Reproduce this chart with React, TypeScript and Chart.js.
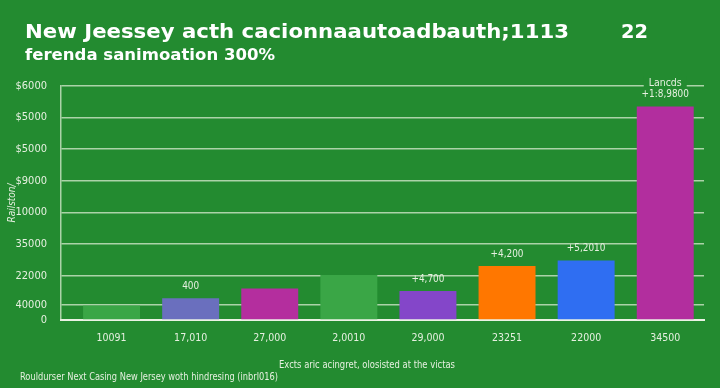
import React, { useEffect, useRef } from "react";
import { Chart, registerables } from "chart.js";

Chart.register(...registerables);

const titleText = "New Jeessey acth cacionnaautoadbauth;1113";
const titleRight = "22";
const subtitleText = "ferenda sanimoation 300%";
const seriesName = "Lancds";
const xAxisTitle = "Excts aric acingret, olosisted at the victas";
const yAxisTitle = "Railston/";
const footerText = "Rouldurser Next Casing New Jersey woth hindresing (inbrl016)";

const categories = ["10091", "17,010", "27,000", "2,0010", "29,000", "23251", "22000", "34500"];
const values = [0.45, 0.69, 1.0, 1.42, 0.92, 1.71, 1.88, 6.75];
const barLabels = ["", "400", "", "", "+4,700", "+4,200", "+5,2010", "+1:8,9800"];
const barColors = ["#3AA646", "#6A6FBE", "#B42E9E", "#3AA646", "#8446C9", "#FF7700", "#2F6EF2", "#B22E9E"];

const yTickValues = [0, 0.47, 1.4, 2.4, 3.4, 4.4, 5.4, 6.4, 7.4];
const yTickLabels = ["0", "40000", "22000", "35000", "10000", "$9000", "$5000", "$5000", "$6000"];

const BG = "#238B30";
const TEXT = "#E6F0E0";
const GRID = "rgba(225,238,215,0.72)";
const NARROW = "'DejaVu Sans Condensed', 'Roboto', sans-serif";
const HEAD = "'DejaVu Sans', Lato, sans-serif";

function drawText(ctx: any, text: string, x: number, y: number, align: string, sx: number) {
  ctx.save();
  ctx.translate(x, y);
  ctx.scale(sx, 1);
  ctx.textAlign = align;
  ctx.fillText(text, 0, 0);
  ctx.restore();
}

function fitText(ctx: any, text: string, x: number, y: number, align: string, width: number) {
  const w = ctx.measureText(text).width;
  drawText(ctx, text, x, y, align, width / w);
}

const textPlugin = {
  id: "textPlugin",
  afterDatasetsDraw(chart: any) {
    const ctx = chart.ctx;
    const area = chart.chartArea;
    ctx.save();
    ctx.fillStyle = "#FFFFFF";
    ctx.textBaseline = "alphabetic";
    ctx.font = `bold 20px ${HEAD}`;
    fitText(ctx, titleText, 25, 37.5, "left", 544);
    fitText(ctx, titleRight, 621, 37.5, "left", 27);
    ctx.font = `bold 15.5px ${HEAD}`;
    fitText(ctx, subtitleText, 25, 60, "left", 250);

    ctx.textBaseline = "middle";
    const meta = chart.getDatasetMeta(0);
    ctx.font = `11px ${NARROW}`;
    ctx.fillStyle = TEXT;
    meta.data.forEach((bar: any, i: number) => {
      const t = barLabels[i];
      if (t) drawText(ctx, t, bar.x, bar.y - 12, "center", 0.9);
    });

    const last = meta.data[meta.data.length - 1];
    ctx.font = `11px ${NARROW}`;
    const w = ctx.measureText(seriesName).width * 0.95 + 10;
    const ly = area.top - 3;
    ctx.fillStyle = BG;
    ctx.fillRect(last.x - w / 2, ly - 7, w, 12);
    ctx.fillStyle = TEXT;
    drawText(ctx, seriesName, last.x, ly, "center", 0.95);

    ctx.font = `10px ${NARROW}`;
    fitText(ctx, xAxisTitle, 367, 365.5, "center", 176);
    fitText(ctx, footerText, 20, 377.5, "left", 258);
    ctx.restore();
  },
};

export default function App() {
  const ref = useRef<HTMLCanvasElement>(null);

  useEffect(() => {
    if (!ref.current) return;
    const chart = new Chart(ref.current, {
      type: "bar",
      data: {
        datasets: [
          {
            label: seriesName,
            data: values.map((v, i) => ({ x: i, y: v })),
            backgroundColor: barColors,
            borderWidth: 0,
            barPercentage: 0.72,
            categoryPercentage: 1,
          },
        ],
      },
      options: {
        animation: false,
        responsive: true,
        maintainAspectRatio: false,
        layout: { padding: { top: 86, right: 16, bottom: 0, left: 0 } },
        plugins: {
          legend: { display: false },
          title: { display: false },
          tooltip: { enabled: false },
        },
        scales: {
          x: {
            type: "linear",
            offset: false,
            min: -0.639,
            max: 7.49,
            grid: { display: false, drawTicks: false, offset: false },
            border: { display: true, color: "#EAF2E4", width: 2 },
            afterBuildTicks: (s: any) => {
              s.ticks = categories.map((_, i) => ({ value: i }));
            },
            afterFit: (s: any) => {
              s.height = 68;
            },
            ticks: {
              autoSkip: false,
              maxRotation: 0,
              padding: 12,
              color: TEXT,
              font: { family: NARROW, size: 10.5 },
              callback: (v: any) => categories[Math.round(Number(v))] ?? "",
            },
          },
          y: {
            type: "linear",
            min: 0,
            max: 7.4,
            grid: { color: GRID, lineWidth: 1.5, drawTicks: false },
            border: { display: true, color: GRID, width: 1.5 },
            afterBuildTicks: (s: any) => {
              s.ticks = yTickValues.map((v) => ({ value: v }));
            },
            afterFit: (s: any) => {
              s.width = 61;
            },
            title: {
              display: true,
              text: yAxisTitle,
              color: TEXT,
              font: { family: NARROW, size: 10, style: "italic" },
              padding: { top: 6, bottom: 0 },
            },
            ticks: {
              autoSkip: false,
              padding: 14,
              color: TEXT,
              font: { family: NARROW, size: 11 },
              callback: (_v: any, i: number) => yTickLabels[i] ?? "",
            },
          },
        },
      },
      plugins: [textPlugin],
    });
    return () => chart.destroy();
  }, []);

  return (
    <div
      style={{
        position: "fixed",
        left: 0,
        top: 0,
        width: 720,
        height: 388,
        background: BG,
      }}
    >
      <canvas ref={ref} />
    </div>
  );
}
